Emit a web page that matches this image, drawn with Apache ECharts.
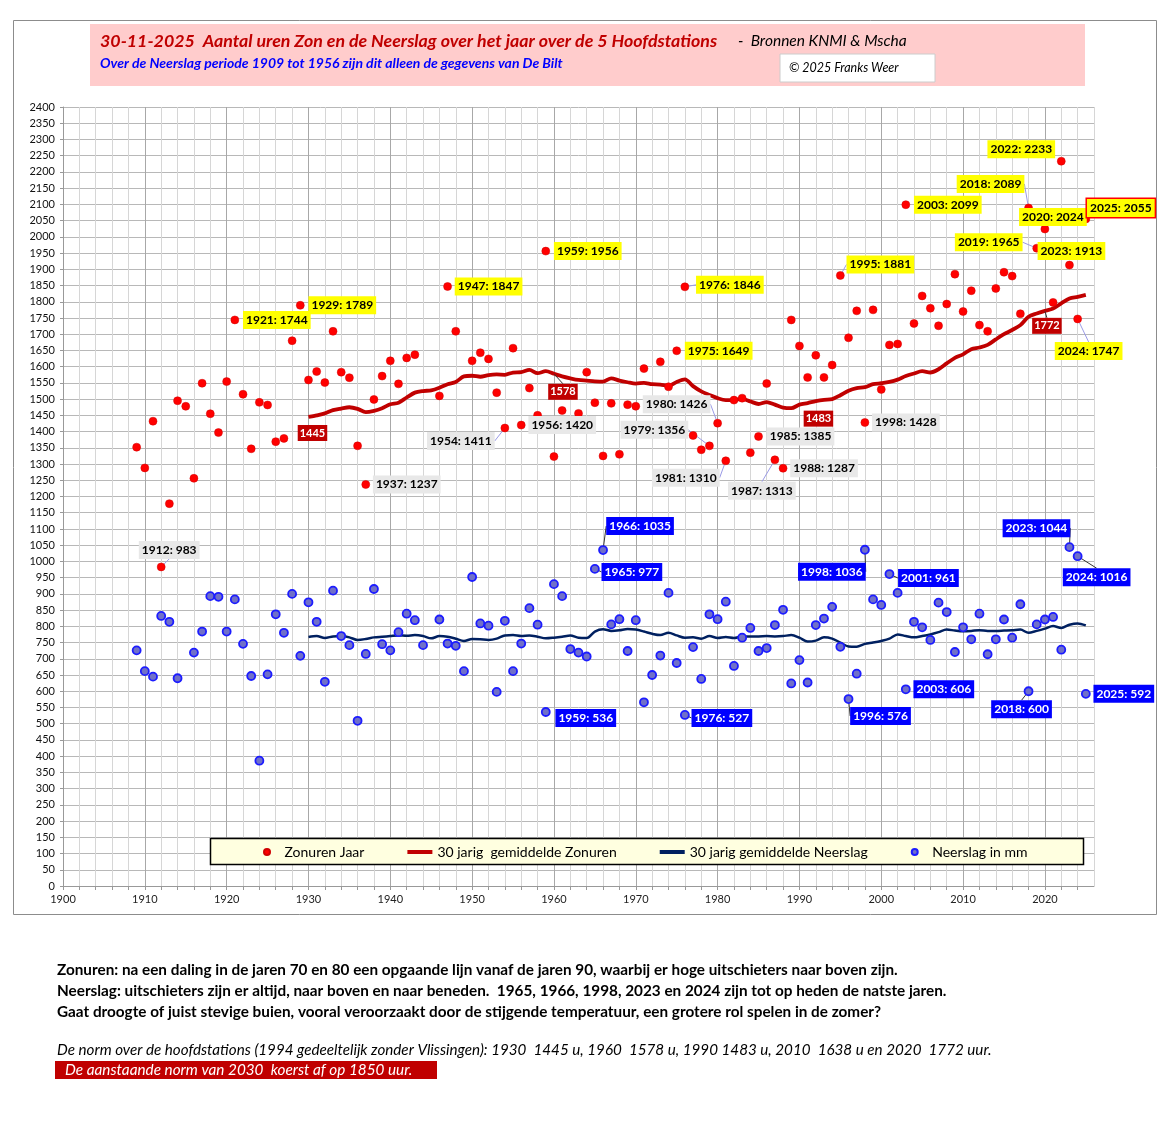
<!DOCTYPE html>
<html><head><meta charset="utf-8">
<script src="https://cdn.jsdelivr.net/npm/echarts@6/dist/echarts.min.js"></script>
<style>html,body{margin:0;padding:0;background:#fff}#c{width:1170px;height:1128px}</style>
</head><body><div id="c"></div>
<script>
// ---------- DATA ----------
const firstYear = 1909;          // first year of the yearly arrays
// Zonuren per jaar 1909..2025 (null = no point visible)
const zonuren = [
 1352,1288,1432,983,1178,1495,1478,1256,1549,1455,1397,            // 1909-1919
 1554,1744,1515,1347,1490,1482,1369,1379,1680,1789,                // 1920-1929
 1559,1585,1551,1709,1583,1566,1356,1237,1499,1571,                // 1930-1939
 1618,1547,1627,1637,null,null,1510,1847,1709,null,                // 1940-1949
 1618,1643,1624,1520,1411,1657,1420,1534,1450,1956,                // 1950-1959
 1323,1465,1425,1456,1583,1489,1325,1487,1330,1483,                // 1960-1969
 1478,1594,1480,1615,1538,1649,1846,1388,1344,1356,                // 1970-1979
 1426,1310,1497,1503,1335,1385,1548,1313,1287,1744,                // 1980-1989
 1664,1567,1635,1567,1605,1881,1689,1772,1428,1775,                // 1990-1999
 1530,1667,1670,2099,1733,1818,1780,1726,1793,1885,                // 2000-2009
 1770,1834,1728,1709,1841,1891,1879,1763,2089,1965,                // 2010-2019
 2024,1798,2233,1913,1747,2055                                     // 2020-2025
];
// Neerslag in mm per jaar 1909..2025
const neerslag = [
 726,662,645,832,814,640,null,719,784,893,891,                     // 1909-1919
 784,883,746,647,386,652,837,780,900,709,                          // 1920-1929
 874,814,629,910,770,742,509,715,915,745,                          // 1930-1939
 726,782,839,819,742,null,821,747,740,662,                         // 1940-1949
 952,809,802,598,817,662,747,856,805,536,                          // 1950-1959
 930,893,730,719,707,977,1035,806,822,724,                         // 1960-1969
 819,566,650,710,903,687,527,736,638,837,                          // 1970-1979
 822,876,678,765,795,724,733,804,851,624,                          // 1980-1989
 696,627,804,824,860,737,576,654,1036,883,                         // 1990-1999
 866,961,903,606,814,797,758,873,844,721,                          // 2000-2009
 797,760,839,714,760,821,765,868,600,806,                          // 2010-2019
 821,829,728,1044,1016,592                                         // 2020-2025
];
const meanStart = 1930;          // first year of the 30-year means
// 30 jarig gemiddelde Zonuren 1930..2025
const zonMean = [
 1445,1450,1456,1466,1471,1475,1470,1460,1464,1472,
 1484,1489,1505,1520,1525,1527,1535,1546,1553,1570,
 1572,1569,1574,1576,1575,1582,1583,1590,1580,1586,
 1578,1570,1564,1559,1557,1555,1554,1564,1557,1552,
 1548,1550,1546,1545,1541,1553,1561,1540,1524,1513,
 1503,1497,1497,1501,1493,1485,1491,1483,1474,1472,
 1483,1488,1494,1498,1500,1512,1526,1534,1537,1546,
 1549,1553,1560,1571,1579,1586,1582,1592,1610,1627,
 1638,1654,1659,1667,1684,1700,1713,1728,1754,1764,
 1772,1779,1795,1810,1815,1821
];
// 30 jarig gemiddelde Neerslag 1930..2025
const neerslagMean = [
 767,770,764,769,770,766,758,761,766,768,
 770,772,771,773,770,763,770,768,762,755,
 761,760,758,762,772,773,770,772,768,763,
 765,768,772,765,764,784,791,786,788,792,
 790,784,777,773,780,772,765,766,762,770,
 764,767,764,769,769,769,770,769,770,773,
 765,753,756,766,762,750,738,737,746,750,
 755,762,775,770,766,770,775,782,790,787,
 785,786,788,786,786,787,788,790,780,786,
 793,801,795,805,809,803
];
const normYears = [1930, 1960, 1990, 2020];
const xLabelStep = 10;

// ---------- LABEL LAYOUT (style/position only) ----------
const zonLabelCfg = {
 1912:['gray',8,-17,1], 1921:['yellow',42,0,0], 1929:['yellow',42,0,0], 1937:['gray',41,0,0],
 1947:['yellow',41,0,0], 1954:['gray',-44,13,1], 1956:['gray',41,0,0], 1959:['yellow',42,0,0],
 1975:['yellow',42,0,0], 1976:['yellow',45,-2,1], 1979:['gray',-55,-16,1], 1980:['gray',-41,-19,1],
 1981:['gray',-40,17,1], 1985:['gray',42,0,0], 1987:['gray',-13,31,1], 1988:['gray',41,0,0],
 1995:['yellow',40,-11,1], 1998:['gray',41,0,0], 2003:['yellow',42,0,0], 2018:['yellow',-38,-24,1],
 2019:['yellow',-48,-6,1], 2020:['yellow',8,-12,0], 2022:['yellow',-40,-12,0], 2023:['yellow',2,-14,0],
 2024:['yellow',11,32,1], 2025:['yellowRed',35,-11,0]
};
const nsLabelCfg = {
 1959:['blue',40,6,0], 1965:['blue',37,3,1], 1966:['blue',37,-24,1], 1976:['blue',37,3,1],
 1996:['blue',32,17,1], 1998:['blue',-33,22,1], 2001:['blue',39,4,1], 2003:['blue',38,0,0],
 2018:['blue',-7,18,1], 2023:['blue',-33,-19,1], 2024:['blue',19,21,1], 2025:['blue',38,0,0]
};
const normLabelCfg = {1930:['norm',4,16,0], 1960:['norm',9,18,1], 1990:['norm',19,14,0], 2020:['norm',2,15,1]};

const FONT = 'Lato';
const kinds = {
 yellow:{backgroundColor:'#FFFF00', color:'#000'},
 yellowRed:{backgroundColor:'#FFFF00', color:'#000', borderColor:'#FF0000', borderWidth:1.5},
 gray:{backgroundColor:'#E8E8E8', color:'#000'},
 blue:{backgroundColor:'#0000FF', color:'#fff'},
 norm:{backgroundColor:'#C00000', color:'#fff', fontSize:11, lineHeight:12, padding:[2,2]}
};
const lineColors = {yellow:'#9a9ae6', yellowRed:'#9a9ae6', gray:'#9a9ae6', blue:'#333', norm:'#333'};

function labelBase(text) {
  return {show: true, position: 'inside', fontFamily: FONT, fontWeight: 'bold',
    fontSize: 12, lineHeight: 14, padding: [2, 3], opacity: 1, formatter: text};
}
function buildPoints(values, startYear, cfg) {
  const data = [];
  values.forEach((v, i) => {
    if (v == null) return;
    const yr = startYear + i;
    const item = {value: [yr, v]};
    const c = cfg[yr];
    if (c) {
      item.label = Object.assign(labelBase(yr + ': ' + v), kinds[c[0]]);
      if (c[3]) item.labelLine = {show: true, lineStyle: {color: lineColors[c[0]], width: 1, opacity: 1}};
    }
    data.push(item);
  });
  return data;
}
function layoutFor(data, cfg) {
  return function (p) {
    const it = data[p.dataIndex];
    if (!it) return {};
    const c = cfg[it.value[0]];
    return c ? {dx: c[1], dy: c[2]} : {};
  };
}

const zonData = buildPoints(zonuren, firstYear, zonLabelCfg);
const nsData = buildPoints(neerslag, firstYear, nsLabelCfg);
const zonMeanData = zonMean.map((v, i) => [meanStart + i, v]);
const nsMeanData = neerslagMean.map((v, i) => [meanStart + i, v]);
const normData = normYears.map(yr => {
  const v = zonMean[yr - meanStart];
  const c = normLabelCfg[yr];
  const item = {value: [yr, v]};
  item.label = Object.assign(labelBase(String(v)), kinds.norm);
  if (c[3]) item.labelLine = {show: true, lineStyle: {color: lineColors.norm, width: 1, opacity: 1}};
  return item;
});

const lineIcon = 'path://M0,0 L25,0 L25,4 L0,4 Z';
const chart = echarts.init(document.getElementById('c'), null, {renderer: 'canvas'});
const minorColor = '#d6d6d6', majorColor = '#a8a8a8';
chart.setOption({
  animation: false,
  backgroundColor: '#fff',
  textStyle: {fontFamily: FONT},
  grid: {left: 63, right: 76, top: 107, bottom: 242, containLabel: false},
  xAxis: {
    type: 'value', min: 1900, max: 2026, interval: 2,
    axisLine: {show: true, onZero: false, lineStyle: {color: '#999'}},
    axisTick: {show: true, length: 4, lineStyle: {color: '#999'}},
    splitLine: {show: true, lineStyle: {color: [majorColor, minorColor, minorColor, minorColor, minorColor], width: 1}},
    axisLabel: {fontFamily: FONT, fontSize: 11, color: '#222', margin: 8,
      showMaxLabel: false,
      formatter: v => (v % xLabelStep === 0 ? String(v) : '')}
  },
  yAxis: {
    type: 'value', min: 0, max: 2400, interval: 50,
    axisLine: {show: true, lineStyle: {color: '#999'}},
    axisTick: {show: true, length: 3, lineStyle: {color: '#999'}},
    splitLine: {show: true, lineStyle: {color: '#b8b8b8', width: 1}},
    axisLabel: {fontFamily: FONT, fontSize: 11, color: '#111', margin: 8, formatter: v => String(v)}
  },
  legend: {
    left: 258, top: 840, itemGap: 43, itemWidth: 25, itemHeight: 6,
    textStyle: {fontFamily: FONT, fontSize: 14, color: '#000'},
    data: [
      {name: 'Zonuren Jaar'},
      {name: '30 jarig  gemiddelde Zonuren', icon: lineIcon},
      {name: '30 jarig gemiddelde Neerslag', icon: lineIcon},
      {name: 'Neerslag in mm'}
    ]
  },
  graphic: [
    {type: 'rect', z: -10, shape: {x: 13.5, y: 20.5, width: 1143, height: 894}, style: {fill: 'none', stroke: '#8c8c8c', lineWidth: 1}},
    {type: 'rect', z: 3, shape: {x: 90, y: 24, width: 995, height: 62}, style: {fill: '#FFCCCC'}},
    {type: 'text', z: 4, x: 100, y: 41, style: {text: '30-11-2025  Aantal uren Zon en de Neerslag over het jaar over de 5 Hoofdstations',
      font: 'italic bold 17.8px Lato', fill: '#C00000', verticalAlign: 'middle'}},
    {type: 'text', z: 4, x: 738, y: 41, style: {text: '-  Bronnen KNMI & Mscha', font: 'italic 15.5px Lato', fill: '#000', verticalAlign: 'middle'}},
    {type: 'text', z: 4, x: 100, y: 63, style: {text: 'Over de Neerslag periode 1909 tot 1956 zijn dit alleen de gegevens van De Bilt',
      font: 'italic bold 14px Lato', fill: '#0000FF', verticalAlign: 'middle'}},
    {type: 'rect', z: 4, shape: {x: 780, y: 54, width: 155, height: 28}, style: {fill: '#fff', stroke: '#cccccc', lineWidth: 1}},
    {type: 'text', z: 5, x: 789, y: 68, style: {text: '\u00A9 2025 Franks Weer', font: 'italic 12.5px Lato', fill: '#000', verticalAlign: 'middle'}},
    {type: 'rect', z: 3, shape: {x: 210.5, y: 838.5, width: 873, height: 26}, style: {fill: '#FFFFE0', stroke: '#000', lineWidth: 1.5}},
    {type: 'text', x: 57, y: 970, style: {text: 'Zonuren: na een daling in de jaren 70 en 80 een opgaande lijn vanaf de jaren 90, waarbij er hoge uitschieters naar boven zijn.',
      font: 'bold 15.3px Lato', fill: '#000', verticalAlign: 'middle'}},
    {type: 'text', x: 57, y: 991, style: {text: 'Neerslag: uitschieters zijn er altijd, naar boven en naar beneden.  1965, 1966, 1998, 2023 en 2024 zijn tot op heden de natste jaren.',
      font: 'bold 15.3px Lato', fill: '#000', verticalAlign: 'middle'}},
    {type: 'text', x: 57, y: 1012, style: {text: 'Gaat droogte of juist stevige buien, vooral veroorzaakt door de stijgende temperatuur, een grotere rol spelen in de zomer?',
      font: 'bold 15.3px Lato', fill: '#000', verticalAlign: 'middle'}},
    {type: 'text', x: 57, y: 1050, style: {text: 'De norm over de hoofdstations (1994 gedeeltelijk zonder Vlissingen): 1930  1445 u, 1960  1578 u, 1990 1483 u, 2010  1638 u en 2020  1772 uur.',
      font: 'italic 15.2px Lato', fill: '#000', verticalAlign: 'middle'}},
    {type: 'rect', shape: {x: 55, y: 1061, width: 382, height: 18}, style: {fill: '#C00000'}},
    {type: 'text', z: 2, x: 65, y: 1070, style: {text: 'De aanstaande norm van 2030  koerst af op 1850 uur.',
      font: 'italic 15.3px Lato', fill: '#fff', verticalAlign: 'middle'}}
  ],
  series: [
    {name: '30 jarig gemiddelde Neerslag', type: 'line', data: nsMeanData, symbol: 'none', smooth: 0.3,
      lineStyle: {color: '#002060', width: 2.5}, itemStyle: {color: '#002060'}, z: 2},
    {name: '30 jarig  gemiddelde Zonuren', type: 'line', data: zonMeanData, symbol: 'none', smooth: 0.3,
      lineStyle: {color: '#C00000', width: 3.8}, itemStyle: {color: '#C00000'}, z: 2},
    {name: 'Neerslag in mm', type: 'scatter', data: nsData, symbolSize: 8,
      itemStyle: {color: '#7070c8', borderColor: '#1c1cff', borderWidth: 1.8, opacity: 1},
      label: {show: false}, labelLine: {show: false}, labelLayout: layoutFor(nsData, nsLabelCfg), z: 3},
    {name: 'Zonuren Jaar', type: 'scatter', data: zonData, symbolSize: 8,
      itemStyle: {color: '#FF0000', borderColor: '#d00000', borderWidth: 0.5, opacity: 1},
      label: {show: false}, labelLine: {show: false}, labelLayout: layoutFor(zonData, zonLabelCfg), z: 3},
    {name: 'norm', type: 'scatter', data: normData, symbolSize: 1, itemStyle: {color: 'rgba(0,0,0,0)', opacity: 1},
      label: {show: false}, labelLine: {show: false}, labelLayout: layoutFor(normData, normLabelCfg), z: 4}
  ]
});
</script></body></html>
